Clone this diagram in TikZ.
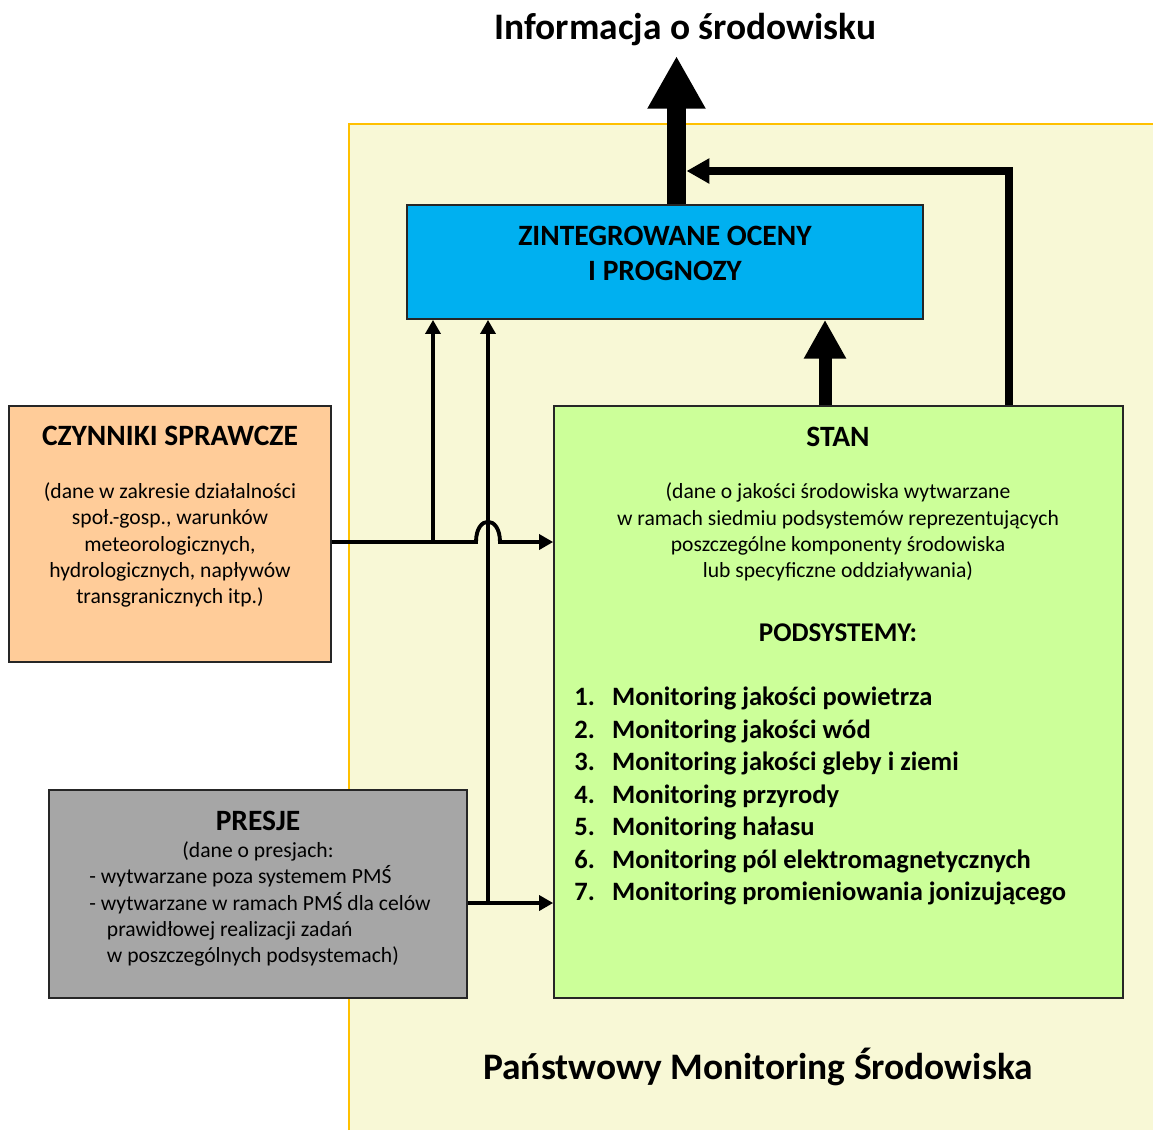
\documentclass[tikz,border=0pt]{standalone}
\usepackage{fontspec}
\setmainfont{Carlito}
\usetikzlibrary{arrows.meta}

\definecolor{pmsbg}{RGB}{248,248,214}
\definecolor{pmsline}{RGB}{255,192,0}
\definecolor{ocenyblue}{RGB}{0,176,240}
\definecolor{stangreen}{RGB}{204,255,153}
\definecolor{czynorange}{RGB}{255,204,153}
\definecolor{presgrey}{RGB}{166,166,166}

\tikzset{
  box/.style={draw=black!85,line width=1pt,inner sep=0pt},
  head/.style={font=\fontsize{16.8}{20}\selectfont\bfseries},
  body/.style={font=\fontsize{12.3}{14.9}\selectfont,align=center,inner sep=0pt},
  flow/.style={line width=2.2pt,-{Triangle[length=8pt,width=8.5pt]}},
}

\begin{document}
\begin{tikzpicture}[x=0.02cm,y=-0.02cm]
\useasboundingbox (0,0) rectangle (1153,1130);

% tlo PMS
\fill[pmsbg] (349,124) rectangle (1153,1130);
\draw[pmsline,line width=1pt] (349,1130) -- (349,124) -- (1153,124);

\node[font=\fontsize{21.3}{25}\selectfont\bfseries] (info) at (685.5,30) {Informacja o środowisku};
\node[font=\fontsize{21.3}{25}\selectfont\bfseries] (pms) at (758,1067) {Państwowy Monitoring Środowiska};

% bloki
\node[box,fill=ocenyblue,minimum width=10.32cm,minimum height=2.28cm] (oceny) at (665,262) {};
\node[box,fill=stangreen,minimum width=11.38cm,minimum height=11.84cm] (stan) at (838.5,702) {};
\node[box,fill=czynorange,minimum width=6.44cm,minimum height=5.12cm] (czyn) at (170,534) {};
\node[box,fill=presgrey,minimum width=8.36cm,minimum height=4.16cm] (presje) at (258,894) {};

\node[head,align=center] (ocenyt) at (665,253) {ZINTEGROWANE OCENY\\I PROGNOZY};

\node[head] (stant) at (838,437) {STAN};
\node[body] (standane) at (838,532) {(dane o jakości środowiska wytwarzane\\
  w ramach siedmiu podsystemów reprezentujących\\
  poszczególne komponenty środowiska\\
  lub specyficzne oddziaływania)};
\node[head,font=\fontsize{15.4}{18}\selectfont\bfseries] (podsys) at (838,633) {PODSYSTEMY:};
\node[anchor=west,inner sep=0pt,align=left,font=\fontsize{15.1}{18.5}\selectfont\bfseries] (lista) at (574,796) {%
  \makebox[21.5pt][l]{1.}Monitoring jakości powietrza\\
  \makebox[21.5pt][l]{2.}Monitoring jakości wód\\
  \makebox[21.5pt][l]{3.}Monitoring jakości gleby i ziemi\\
  \makebox[21.5pt][l]{4.}Monitoring przyrody\\
  \makebox[21.5pt][l]{5.}Monitoring hałasu\\
  \makebox[21.5pt][l]{6.}Monitoring pól elektromagnetycznych\\
  \makebox[21.5pt][l]{7.}Monitoring promieniowania jonizującego};

\node[head] (czynt) at (170,436) {CZYNNIKI SPRAWCZE};
\node[body] (czyndane) at (170,545) {(dane w zakresie działalności\\
  społ.-gosp., warunków\\
  meteorologicznych,\\
  hydrologicznych, napływów\\
  transgranicznych itp.)};

\node[head] (presjet) at (258,821) {PRESJE};
\node[body] (presjed) at (258,851) {(dane o presjach:};
\node[body,align=left,anchor=west] (presjel) at (89,916) {- wytwarzane poza systemem PMŚ\\
  - wytwarzane w ramach PMŚ dla celów\\
  \hspace*{10pt}prawidłowej realizacji zadań\\
  \hspace*{10pt}w poszczególnych podsystemach)};

% polaczenia
\coordinate (top) at (676.5,56);
\coordinate (fb) at (1009,171);
\coordinate (fbend) at (686.5,171);
\coordinate (mid) at (825,0);
\coordinate (c1) at (433,542);
\coordinate (c2) at (488,903);
\coordinate (hopa) at (476,542);
\coordinate (hopb) at (500,542);

\draw[line width=10.8pt,-{Triangle[length=30pt,width=31pt]}] (oceny.north -| top) -- (top);
\draw[line width=4pt,-{Triangle[length=13pt,width=13.6pt]}] (stan.north -| fb) |- (fbend);
\draw[line width=7.4pt,-{Triangle[length=22pt,width=22.5pt]}] (stan.north -| mid) -- (oceny.south -| mid);

\draw[flow] (czyn.east |- c1) -- (hopa) .. controls (476,515) and (500,515) .. (hopb) -- (stan.west |- c1);
\draw[flow] (c1) -- (c1 |- oceny.south);
\draw[flow] (presje.east |- c2) -- (stan.west |- c2);
\draw[flow] (c2) -- (c2 |- oceny.south);
\end{tikzpicture}
\end{document}
